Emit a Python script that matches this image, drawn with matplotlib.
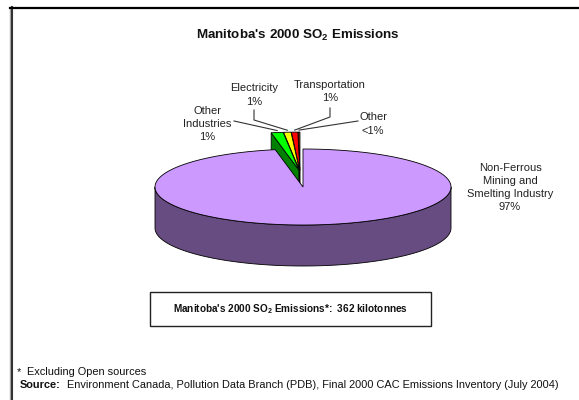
import numpy as np
import matplotlib
matplotlib.use("Agg")
import matplotlib.pyplot as plt
from matplotlib.patches import Polygon, Rectangle
from matplotlib.lines import Line2D

plt.rcParams['font.family'] = ['Liberation Sans', 'DejaVu Sans']
plt.rcParams['mathtext.fontset'] = 'custom'
plt.rcParams['mathtext.rm'] = 'Liberation Sans'
plt.rcParams['mathtext.bf'] = 'Liberation Sans:bold'
plt.rcParams['mathtext.it'] = 'Liberation Sans:italic'

# ---------------- data ----------------
categories = ["Non-Ferrous\nMining and\nSmelting Industry", "Other\nIndustries",
              "Electricity", "Transportation", "Other"]
shares = [97.0, 1.3, 0.8, 0.7, 0.2]
pct_labels = ["97%", "1%", "1%", "1%", "<1%"]
total_kt = 362
top_colors = ["#CC99FF", "#00FF00", "#FFFF00", "#FF0000", "#993300"]
side_colors = ["#664C80", "#008000", "#808000", "#800000", "#4C1900"]

# ---------------- layout ----------------
W, H = 579, 400
fig = plt.figure(figsize=(W / 100, H / 100), dpi=100)
ax = fig.add_axes([0, 0, 1, 1])
ax.set_xlim(0, W)
ax.set_ylim(H, 0)
ax.axis('off')

CX, CY, RX, RY, DEPTH = 303, 187, 148, 38, 41
GROUP_DX, GROUP_DY, SPREAD = -3, -15, 0.05
EDGE = dict(edgecolor='black', linewidth=0.6)

fr = np.array(shares) / sum(shares)
bounds = np.concatenate([[0], np.cumsum(fr)]) * 360.0
n = len(shares)


def rim(cx, cy, th, z=0.0):
    t = np.radians(th)
    return cx + RX * np.sin(t), cy - RY * np.cos(t) + z


offsets = []
for i in range(n):
    if i == 0:
        offsets.append((CX, CY))
    else:
        tm = np.radians((bounds[i] + bounds[i + 1]) / 2)
        offsets.append((CX + GROUP_DX + SPREAD * RX * np.sin(tm),
                        CY + GROUP_DY - SPREAD * RY * np.cos(tm)))

# small exploded slices (drawn back to front: right to left)
for i in reversed(range(1, n)):
    cx, cy = offsets[i]
    th1, th2 = bounds[i], bounds[i + 1]
    if np.sin(np.radians(th1)) < 0:
        x1, y1 = rim(cx, cy, th1)
        face = [(cx, cy), (x1, y1), (x1, y1 + DEPTH), (cx, cy + DEPTH)]
        ax.add_patch(Polygon(face, closed=True, facecolor=side_colors[i], **EDGE))
    arc = np.linspace(th1, th2, 30)
    xs, ys = rim(cx, cy, arc)
    top = [(cx, cy)] + list(zip(xs, ys))
    ax.add_patch(Polygon(top, closed=True, facecolor=top_colors[i], **EDGE))

# big slice: side wall then top
cx, cy = offsets[0]
th1, th2 = bounds[0], bounds[1]
arc = np.linspace(max(th1, 90), min(th2, 270), 200)
xs, ys = rim(cx, cy, arc)
wall = list(zip(xs, ys)) + list(zip(xs[::-1], ys[::-1] + DEPTH))
ax.add_patch(Polygon(wall, closed=True, facecolor=side_colors[0], **EDGE))
arc = np.linspace(th1, th2, 400)
xs, ys = rim(cx, cy, arc)
top = [(cx, cy)] + list(zip(xs, ys))
ax.add_patch(Polygon(top, closed=True, facecolor=top_colors[0], **EDGE))

# labels
label_pos = [(510, 187.5), (207, 124), (254, 95), (330, 91.5), (373, 124)]
for i in range(n):
    lx, ly = label_pos[i]
    ax.text(lx, ly, categories[i] + "\n" + pct_labels[i], ha='center', va='center',
            fontsize=8, color='#222222', linespacing=1.4)

# leader lines
leader_start = {1: [(234, 121)], 2: [(254, 110), (254, 120)],
                3: [(330, 108), (330, 117)], 4: [(358, 121)]}
for i, pts in leader_start.items():
    cx, cy = offsets[i]
    ex, ey = rim(cx, cy, (bounds[i] + bounds[i + 1]) / 2)
    px = [p[0] for p in pts] + [ex]
    py = [p[1] for p in pts] + [ey - 2]
    ax.add_line(Line2D(px, py, color='#333333', linewidth=0.8))

# title
ax.text(298, 35, "Manitoba's 2000 SO$_\\mathbf{2}$ Emissions", ha='center', va='center',
        fontsize=9.6, fontweight='bold', color='#111111')

# total box
ax.add_patch(Rectangle((150, 292), 281, 34, facecolor='white', edgecolor='#222222',
                       linewidth=1.0))
ax.text(290.5, 309, "Manitoba's 2000 SO$_\\mathbf{2}$ Emissions*:  %d kilotonnes" % total_kt,
        ha='center', va='center', fontsize=7.2, fontweight='bold', color='#111111')

# footnotes
FS = 7.9
ax.text(17, 372, "*", ha='left', va='center', fontsize=FS, color='#111111')
ax.text(27, 372, "Excluding Open sources", ha='left', va='center', fontsize=FS,
        color='#111111')
t_src = ax.text(20, 384.5, "Source:", ha='left', va='center', fontsize=FS,
                fontweight='bold', color='#111111')
fig.canvas.draw()
bb = t_src.get_window_extent()
ax.text(20 + bb.width + 6, 384.5,
        "Environment Canada, Pollution Data Branch (PDB), Final 2000 CAC Emissions Inventory (July 2004)",
        ha='left', va='center', fontsize=FS, color='#111111')

# frame
ax.add_line(Line2D([10, 10], [7, H], color='#AAAAAA', linewidth=1.0))
ax.add_line(Line2D([11.5, 11.5], [7, H], color='#333333', linewidth=1.5))
ax.add_line(Line2D([10, W], [7.5, 7.5], color='black', linewidth=1.6))

fig.savefig("out.png", dpi=100)
